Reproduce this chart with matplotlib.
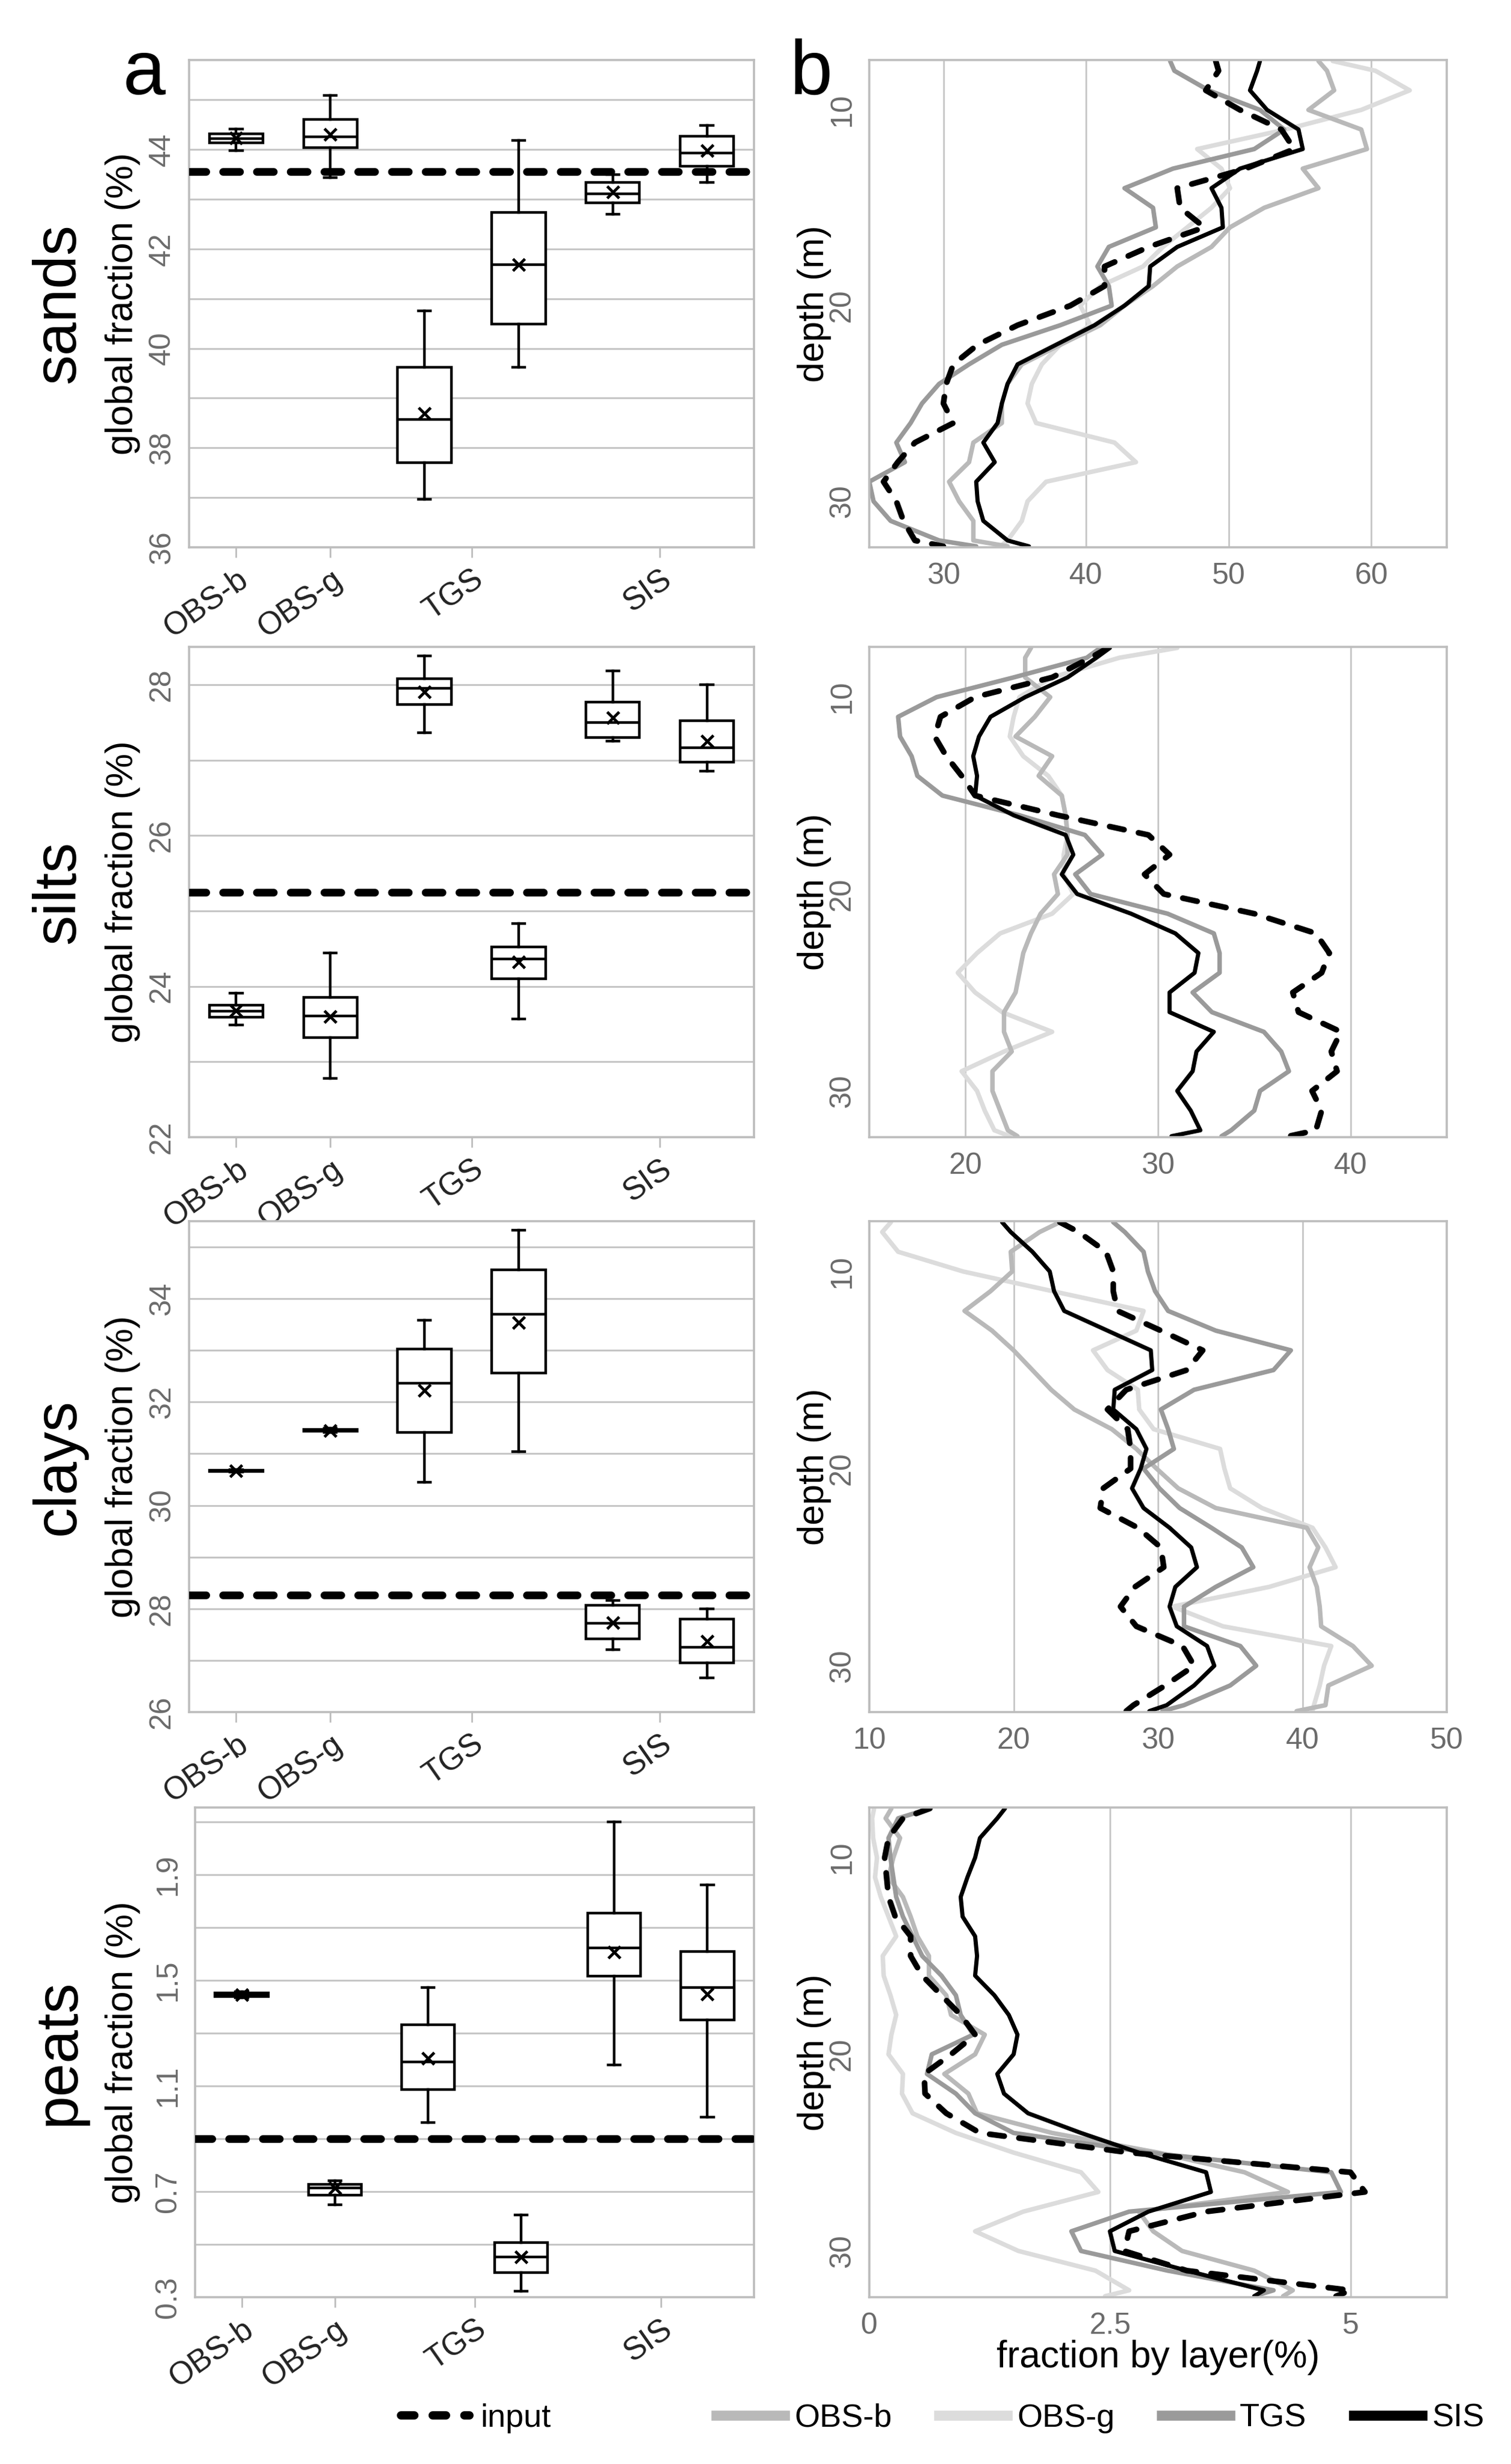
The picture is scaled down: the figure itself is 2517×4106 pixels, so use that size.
import matplotlib
matplotlib.use("Agg")
import matplotlib.pyplot as plt
from matplotlib.lines import Line2D

plt.rcParams['font.family'] = ['Liberation Sans', 'DejaVu Sans']

# ---------------- data ----------------
box_pos = [1, 2, 3, 4, 5, 6]
method_ticks = [1, 2, 3.5, 5.5]
method_labels = ["OBS-b", "OBS-g", "TGS", "SIS"]
soil_names = ["sands", "silts", "clays", "peats"]

# box stats: OBS-b, OBS-g, TGS (2 variants), SIS (2 variants)
sands_lo = [43.98, 43.44, 36.97, 39.62, 42.70, 43.34]
sands_q1 = [44.14, 44.04, 37.70, 40.49, 42.93, 43.66]
sands_med = [44.22, 44.26, 38.57, 41.68, 43.11, 43.93]
sands_q3 = [44.31, 44.60, 39.62, 42.74, 43.34, 44.27]
sands_hi = [44.41, 45.09, 40.76, 44.18, 43.50, 44.49]
sands_mean = [44.23, 44.30, 38.69, 41.68, 43.15, 43.98]
sands_input = 43.55

silts_lo = [23.49, 22.78, 27.36, 23.57, 27.25, 26.85]
silts_q1 = [23.59, 23.32, 27.74, 24.10, 27.30, 26.97]
silts_med = [23.67, 23.61, 27.95, 24.36, 27.50, 27.16]
silts_q3 = [23.75, 23.85, 28.08, 24.52, 27.77, 27.52]
silts_hi = [23.91, 24.44, 28.38, 24.83, 28.18, 28.00]
silts_mean = [23.68, 23.60, 27.90, 24.32, 27.56, 27.25]
silts_input = 25.25

clays_lo = [30.65, 31.41, 30.45, 31.04, 27.21, 26.66]
clays_q1 = [30.66, 31.43, 31.41, 32.56, 27.42, 26.95]
clays_med = [30.67, 31.45, 32.36, 33.70, 27.72, 27.26]
clays_q3 = [30.68, 31.47, 33.03, 34.56, 28.07, 27.80]
clays_hi = [30.69, 31.49, 33.58, 35.32, 28.16, 28.00]
clays_mean = [30.67, 31.45, 32.23, 33.54, 27.73, 27.37]
clays_input = 28.27

peats_lo = [1.435, 0.650, 0.961, 0.322, 1.180, 0.983]
peats_q1 = [1.439, 0.687, 1.087, 0.393, 1.516, 1.350]
peats_med = [1.446, 0.713, 1.192, 0.453, 1.623, 1.472]
peats_q3 = [1.453, 0.728, 1.331, 0.507, 1.754, 1.610]
peats_hi = [1.458, 0.742, 1.472, 0.611, 2.100, 1.862]
peats_mean = [1.446, 0.713, 1.204, 0.453, 1.607, 1.447]
peats_input = 0.9

box_ylims = [(36, 45.8), (22, 28.5), (26, 35.5), (0.3, 2.155)]
box_major = [[36, 38, 40, 42, 44], [22, 24, 26, 28], [26, 28, 30, 32, 34],
             [0.3, 0.7, 1.1, 1.5, 1.9]]
box_minor = [[37, 39, 41, 43, 45], [23, 25, 27], [27, 29, 31, 33, 35],
             [0.5, 0.9, 1.3, 1.7, 2.1]]

# depth profiles
depth_m = [7.5, 8, 9, 10, 11, 12, 13, 14, 15, 16, 17, 18, 19, 20, 21, 22, 23,
           24, 25, 26, 27, 28, 29, 30, 31, 32, 32.3]

sands_sis = [52.2, 52.0, 51.5, 52.7, 54.9, 55.2, 50.8, 48.8, 49.5, 49.6, 46.4, 44.5, 44.4, 42.7,
             40.6, 37.9, 35.2, 34.5, 34.1, 33.8, 32.8, 33.6, 32.3, 32.4, 32.8, 34.5, 36.0]
sands_inp = [49.1, 49.3, 48.4, 50.8, 53.7, 54.6, 51.2, 46.4, 46.6, 48.3, 44.4, 41.3, 41.3, 38.9,
             35.2, 32.4, 30.7, 30.2, 30.0, 30.7, 28.0, 26.8, 25.8, 26.7, 27.2, 28.0, 30.0]
sands_tgs = [45.9, 46.2, 48.6, 52.2, 53.9, 51.8, 46.1, 42.7, 44.7, 44.9, 41.6, 40.8, 41.6, 41.8,
             38.2, 34.1, 31.8, 29.7, 28.5, 27.7, 26.7, 27.3, 24.8, 25.1, 26.3, 29.7, 32.3]
sands_obsb = [56.3, 56.9, 57.4, 55.6, 59.3, 59.7, 55.2, 56.3, 52.5, 50.1, 48.8, 46.4, 44.7, 42.7,
              41.0, 38.2, 35.5, 34.5, 34.1, 34.1, 32.1, 31.8, 30.4, 31.1, 32.1, 32.1, 34.5]
sands_obsg = [57.3, 60.3, 62.7, 59.3, 54.0, 47.8, 49.5, 50.1, 48.8, 47.1, 45.4, 44.0, 41.0, 39.6,
              40.3, 38.2, 36.9, 36.2, 35.9, 36.5, 42.0, 43.5, 37.2, 35.9, 35.5, 34.5, 34.0]

silts_sis = [27.5, 26.8, 25.3, 23.1, 21.3, 20.7, 20.4, 20.6, 20.5, 22.5, 25.2, 25.6, 25.0, 25.8,
             28.6, 30.9, 32.1, 31.9, 30.6, 30.6, 32.9, 32.0, 31.8, 31.0, 31.7, 32.2, 30.7]
silts_inp = [27.4, 26.5, 24.5, 20.5, 18.7, 18.4, 19.0, 19.8, 20.5, 24.8, 29.5, 30.6, 29.3, 30.3,
             35.0, 38.2, 38.9, 38.5, 37.0, 37.3, 39.5, 39.0, 39.3, 38.0, 38.5, 38.2, 36.8]
silts_tgs = [27.0, 26.3, 22.5, 18.5, 16.5, 16.6, 17.2, 17.5, 18.8, 22.8, 26.2, 27.1, 25.7, 26.5,
             30.5, 32.9, 33.2, 33.2, 31.8, 32.8, 35.5, 36.4, 36.8, 35.3, 35.0, 33.8, 33.3]
silts_obsb = [23.4, 23.1, 23.1, 24.4, 23.6, 22.6, 24.5, 23.8, 25.0, 25.2, 25.3, 25.3, 24.6, 24.8,
              23.9, 23.4, 23.0, 22.8, 22.6, 22.0, 22.0, 22.4, 21.4, 21.4, 21.8, 22.2, 22.7]
silts_obsg = [31.0, 28.0, 24.5, 22.8, 22.5, 22.3, 23.0, 24.3, 25.0, 25.2, 25.3, 25.1, 25.1, 25.6,
              24.5, 21.8, 20.6, 19.6, 20.5, 21.9, 24.5, 22.0, 19.8, 20.6, 21.0, 21.5, 22.3]

clays_sis = [19.2, 19.8, 21.3, 22.5, 22.8, 23.5, 26.5, 29.5, 29.6, 27.0, 26.9, 28.5, 29.2, 28.8,
             28.2, 29.0, 30.8, 32.3, 32.7, 31.2, 30.8, 31.3, 33.4, 33.9, 32.5, 30.6, 29.4]
clays_inp = [23.2, 24.5, 26.4, 26.9, 26.9, 27.2, 30.2, 33.1, 32.0, 27.8, 26.5, 27.9, 28.1, 28.1,
             26.2, 26.0, 28.6, 30.2, 30.4, 28.4, 27.4, 28.5, 31.7, 32.5, 30.5, 28.3, 27.8]
clays_tgs = [26.9, 27.7, 29.0, 29.3, 29.8, 30.7, 34.0, 39.2, 38.0, 32.5, 30.2, 30.7, 31.1, 29.0,
             30.1, 31.5, 33.7, 35.8, 36.6, 34.0, 31.8, 31.8, 35.7, 36.8, 35.0, 31.8, 30.3]
clays_obsb = [23.2, 21.8, 19.8, 19.9, 18.4, 16.6, 18.5, 20.0, 21.3, 22.6, 24.2, 26.8, 28.5, 29.9,
              31.4, 34.0, 40.3, 41.1, 40.5, 41.0, 41.2, 41.3, 43.5, 44.8, 41.8, 41.6, 39.6]
clays_obsg = [11.5, 10.9, 12.0, 16.5, 22.7, 29.0, 28.5, 25.5, 26.5, 28.6, 28.7, 29.7, 34.3, 34.6,
              35.0, 37.2, 40.7, 41.6, 42.3, 37.7, 31.0, 34.5, 42.0, 41.5, 41.2, 40.8, 40.7]

peats_sis = [1.41, 1.33, 1.15, 1.10, 1.02, 0.95, 0.97, 1.10, 1.12, 1.10, 1.30, 1.45, 1.54, 1.50,
             1.33, 1.40, 1.65, 2.20, 2.80, 3.50, 3.55, 2.90, 2.50, 2.55, 3.30, 4.10, 4.00]
peats_inp = [0.63, 0.35, 0.20, 0.16, 0.18, 0.20, 0.27, 0.43, 0.43, 0.55, 0.75, 0.95, 1.10, 0.85,
             0.57, 0.58, 0.80, 1.15, 2.70, 5.00, 5.15, 3.50, 2.70, 2.65, 3.30, 5.00, 4.85]
peats_tgs = [0.63, 0.30, 0.20, 0.22, 0.25, 0.28, 0.35, 0.45, 0.55, 0.75, 0.90, 0.95, 1.08, 0.65,
             0.60, 0.90, 1.10, 1.50, 2.90, 4.80, 4.90, 2.70, 2.10, 2.20, 3.10, 4.20, 4.00]
peats_obsb = [0.23, 0.17, 0.32, 0.25, 0.20, 0.35, 0.43, 0.50, 0.62, 0.62, 0.80, 0.85, 1.20, 1.10,
              0.78, 1.03, 1.12, 1.90, 3.00, 3.90, 4.35, 2.80, 2.95, 3.25, 4.00, 4.40, 4.30]
peats_obsg = [0.05, 0.03, 0.04, 0.08, 0.06, 0.12, 0.20, 0.28, 0.14, 0.15, 0.22, 0.28, 0.23, 0.20,
              0.35, 0.34, 0.45, 0.90, 1.50, 2.20, 2.38, 1.60, 1.10, 1.55, 2.35, 2.70, 2.45]

prof_xlims = [(24.8, 65.3), (15, 45), (10, 50), (0, 6)]
prof_xticks = [[30, 40, 50, 60], [20, 30, 40], [10, 20, 30, 40, 50], [0, 2.5, 5]]
prof_xlabels = [["30", "40", "50", "60"], ["20", "30", "40"],
                ["10", "20", "30", "40", "50"], ["0", "2.5", "5"]]
depth_ticks = [10, 20, 30]

box_data = {
    "sands": (sands_lo, sands_q1, sands_med, sands_q3, sands_hi, sands_mean, sands_input),
    "silts": (silts_lo, silts_q1, silts_med, silts_q3, silts_hi, silts_mean, silts_input),
    "clays": (clays_lo, clays_q1, clays_med, clays_q3, clays_hi, clays_mean, clays_input),
    "peats": (peats_lo, peats_q1, peats_med, peats_q3, peats_hi, peats_mean, peats_input),
}
prof_data = {
    "sands": (sands_obsg, sands_obsb, sands_tgs, sands_sis, sands_inp),
    "silts": (silts_obsg, silts_obsb, silts_tgs, silts_sis, silts_inp),
    "clays": (clays_obsg, clays_obsb, clays_tgs, clays_sis, clays_inp),
    "peats": (peats_obsg, peats_obsb, peats_tgs, peats_sis, peats_inp),
}

# ---------------- style ----------------
W, H = 2517, 4106
DPI = 200
SPINE = '#bdbdbd'
GRID = '#c6c6c6'
TICKC = '#6b6b6b'
curve_styles = [
    dict(color='#dcdcdc', lw=2.7, label='OBS-g'),
    dict(color='#b9b9b9', lw=2.7, label='OBS-b'),
    dict(color='#9a9a9a', lw=2.7, label='TGS'),
    dict(color='black', lw=2.5, label='SIS'),
    dict(color='black', lw=3.4, dashes=(2.6, 2.6), dash_capstyle='round', label='input'),
]

fig = plt.figure(figsize=(W / DPI, H / DPI), dpi=DPI)


def px_axes(x0, y0, x1, y1):
    return fig.add_axes([x0 / W, 1 - y1 / H, (x1 - x0) / W, (y1 - y0) / H])


def fx(x):
    return x / W


def fy(y):
    return 1 - y / H


def style_spines(ax):
    for s in ax.spines.values():
        s.set_color(SPINE)
        s.set_linewidth(1.3)


rows = [(100, 912), (1078, 1895), (2035, 2853), (3012, 3828)]
left_x0 = [315, 315, 315, 325]
left_x1 = 1256
right_x = (1448, 2410)

for i, soil in enumerate(soil_names):
    y0, y1 = rows[i]
    lo, q1, med, q3, hi, mean, inp = box_data[soil]

    # ---- panel a: box plots ----
    ax = px_axes(left_x0[i], y0, left_x1, y1)
    stats = [dict(whislo=a, q1=b, med=c, q3=d, whishi=e, mean=f)
             for a, b, c, d, e, f in zip(lo, q1, med, q3, hi, mean)]
    lp = dict(color='black', linewidth=1.6)
    ax.bxp(stats, positions=box_pos, widths=0.57, showmeans=True, showfliers=False,
           patch_artist=True, capwidths=0.13,
           boxprops=dict(facecolor='white', edgecolor='black', linewidth=1.6),
           medianprops=lp, whiskerprops=lp, capprops=lp,
           meanprops=dict(marker='x', markeredgecolor='black', markersize=7.5,
                          markeredgewidth=1.7))
    ax.axhline(inp, color='black', lw=4.6, dashes=(2.2, 2.2), dash_capstyle='round',
               zorder=6)
    ax.set_xlim(0.5, 6.5)
    ax.set_ylim(*box_ylims[i])
    ax.set_yticks(box_major[i])
    ax.set_yticks(box_minor[i], minor=True)
    ax.set_axisbelow(True)
    ax.yaxis.grid(True, which='both', color=GRID, lw=1.1)
    ax.tick_params(axis='y', which='both', length=0, pad=8, labelsize=18,
                   labelcolor=TICKC, labelrotation=90)
    for t in ax.get_yticklabels():
        t.set_va('center')
    ax.set_xticks(method_ticks)
    ax.set_xticklabels(method_labels, rotation=35, ha='right', rotation_mode='anchor',
                       fontsize=19, color='#222222')
    ax.tick_params(axis='x', direction='out', length=6, width=1, color=SPINE, pad=4)
    style_spines(ax)

    yc = fy((y0 + y1) / 2)
    fig.text(fx(98), yc, soil, rotation=90, fontsize=36, ha='center', va='center')
    fig.text(fx(205), yc, 'global fraction (%)', rotation=90, fontsize=22.5,
             ha='center', va='center')

    # ---- panel b: depth profiles ----
    bx = px_axes(right_x[0], y0, right_x[1], y1)
    for vals, st in zip(prof_data[soil], curve_styles):
        kw = dict(st)
        kw.pop('label')
        bx.plot(vals, depth_m, solid_capstyle='round', solid_joinstyle='round', **kw)
    bx.set_xlim(*prof_xlims[i])
    bx.set_ylim(32.35, 7.45)
    bx.set_xticks(prof_xticks[i], labels=prof_xlabels[i])
    bx.set_yticks(depth_ticks)
    bx.set_axisbelow(True)
    bx.xaxis.grid(True, color=GRID, lw=1.0)
    bx.tick_params(axis='both', length=0, labelsize=18, labelcolor=TICKC)
    bx.tick_params(axis='x', pad=9)
    bx.tick_params(axis='y', pad=8, labelrotation=90)
    for t in bx.get_yticklabels():
        t.set_va('center')
    style_spines(bx)
    fig.text(fx(1357), yc, 'depth (m)', rotation=90, fontsize=22,
             ha='center', va='center')

fig.text(fx(205), fy(157), 'a', fontsize=46, ha='left', va='baseline')
fig.text(fx(1316), fy(157), 'b', fontsize=46, ha='left', va='baseline')
fig.text(fx(1929), fy(3928), 'fraction by layer(%)', fontsize=22.5, ha='center',
         va='center')

# ---- legend ----
def handle(st):
    kw = dict(st)
    lab = kw.pop('label')
    return Line2D([], [], **kw), lab


h_inp, l_inp = handle(curve_styles[4])
h_inp.set_linewidth(5)
h_inp.set_dashes((1.6, 2.2))
fig.legend([h_inp], [l_inp], loc='center left',
           bbox_to_anchor=(fx(668), fy(4030)), frameon=False, fontsize=19.5,
           handlelength=2.1, handletextpad=0.35, borderpad=0, borderaxespad=0)
order = [1, 0, 2, 3]
hs, ls = [], []
for k in order:
    st = dict(curve_styles[k])
    st['lw'] = 6
    h, l = handle(st)
    hs.append(h)
    ls.append(l)
fig.legend(hs, ls, loc='center left', bbox_to_anchor=(fx(1193), fy(4030)),
           frameon=False, fontsize=19.5, ncol=4, handlelength=2.1, handletextpad=0.3,
           columnspacing=1.45, borderpad=0, borderaxespad=0)

fig.savefig('out.png', dpi=DPI, facecolor='white')
